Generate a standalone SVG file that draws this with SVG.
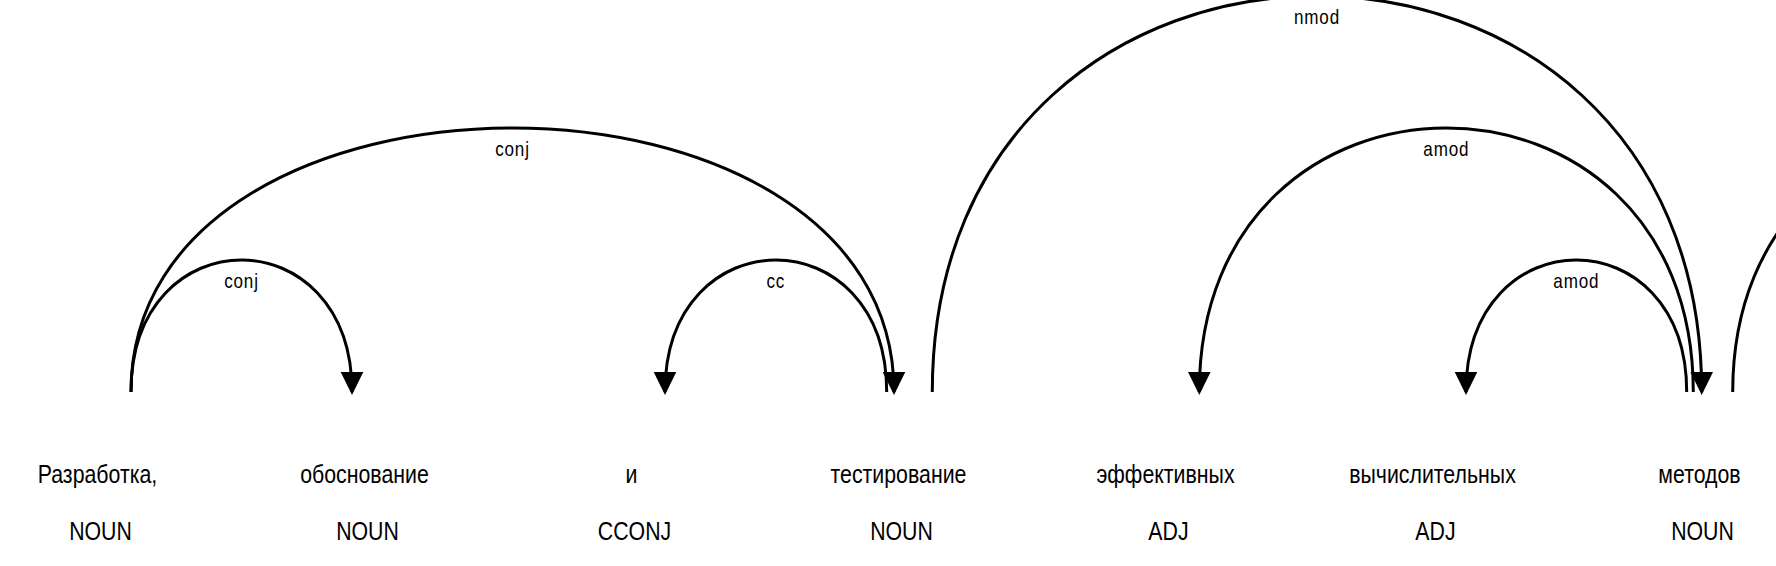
<svg xmlns="http://www.w3.org/2000/svg" width="1776" height="566" viewBox="0 0 1776 566">
<style>
.word{font-family:"Liberation Sans",Arial,sans-serif;font-size:26px;fill:#000;text-anchor:middle}
.lbl{font-family:"Liberation Sans",Arial,sans-serif;font-size:20.8px;letter-spacing:1px;fill:#000;text-anchor:middle}
.arc{fill:none;stroke:#000;stroke-width:3}
.head{fill:#000;stroke:none}
</style>
<rect width="1776" height="566" fill="#fff"/>
<g id="node-0"><text class="word" transform="translate(97.5,483) scale(0.82,1)">Разработка,</text><text class="word" transform="translate(100.5,540) scale(0.82,1)">NOUN</text></g>
<g id="node-1"><text class="word" transform="translate(364.5,483) scale(0.82,1)">обоснование</text><text class="word" transform="translate(367.5,540) scale(0.82,1)">NOUN</text></g>
<g id="node-2"><text class="word" transform="translate(631.5,483) scale(0.82,1)">и</text><text class="word" transform="translate(634.5,540) scale(0.82,1)">CCONJ</text></g>
<g id="node-3"><text class="word" transform="translate(898.5,483) scale(0.82,1)">тестирование</text><text class="word" transform="translate(901.5,540) scale(0.82,1)">NOUN</text></g>
<g id="node-4"><text class="word" transform="translate(1165.5,483) scale(0.82,1)">эффективных</text><text class="word" transform="translate(1168.5,540) scale(0.82,1)">ADJ</text></g>
<g id="node-5"><text class="word" transform="translate(1432.5,483) scale(0.82,1)">вычислительных</text><text class="word" transform="translate(1435.5,540) scale(0.82,1)">ADJ</text></g>
<g id="node-6"><text class="word" transform="translate(1699.5,483) scale(0.82,1)">методов</text><text class="word" transform="translate(1702.5,540) scale(0.82,1)">NOUN</text></g>
<g id="connectors">
<path class="arc" d="M131,392 C131,216 352,216 352,392"/>
<path class="head" d="M352,395 L340.7,372 L363.3,372 Z"/>
<text class="lbl" transform="translate(241.5,288) scale(0.82,1)">conj</text>
<path class="arc" d="M131,392 C131,40 894,40 894,392"/>
<path class="head" d="M894,395 L882.7,372 L905.3,372 Z"/>
<text class="lbl" transform="translate(512.5,156) scale(0.82,1)">conj</text>
<path class="arc" d="M665,392 C665,216 886.7,216 886.7,392"/>
<path class="head" d="M665,395 L653.7,372 L676.3,372 Z"/>
<text class="lbl" transform="translate(775.8,288) scale(0.82,1)">cc</text>
<path class="arc" d="M932.3,392 C932.3,-136 1701.7,-136 1701.7,392"/>
<path class="head" d="M1701.7,395 L1690.4,372 L1713,372 Z"/>
<text class="lbl" transform="translate(1317,24) scale(0.82,1)">nmod</text>
<path class="arc" d="M1199.3,392 C1199.3,40 1693.3,40 1693.3,392"/>
<path class="head" d="M1199.3,395 L1188,372 L1210.6,372 Z"/>
<text class="lbl" transform="translate(1446.3,156) scale(0.82,1)">amod</text>
<path class="arc" d="M1466,392 C1466,216 1686.7,216 1686.7,392"/>
<path class="head" d="M1466,395 L1454.7,372 L1477.3,372 Z"/>
<text class="lbl" transform="translate(1576.3,288) scale(0.82,1)">amod</text>
<path class="arc" d="M1732.7,392 C1732.7,40 2233,40 2233,392"/>
</g>
</svg>
